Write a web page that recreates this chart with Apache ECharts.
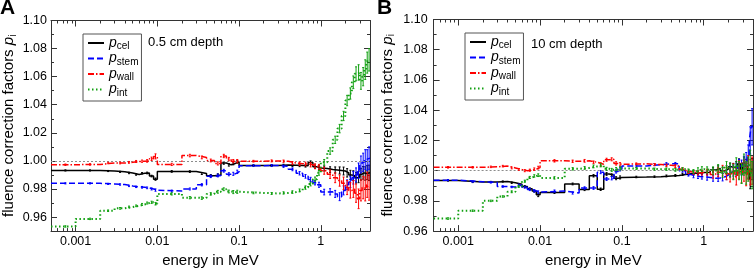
<!DOCTYPE html>
<html><head><meta charset="utf-8">
<script src="https://cdn.jsdelivr.net/npm/echarts@6/dist/echarts.min.js"></script>
<style>html,body{margin:0;padding:0;background:#fff}#c{width:754px;height:273px}</style>
</head><body><div id="c"></div>
<script>
// ---------- DATA ----------
const energyEdges = [0.0005, 0.001, 0.002, 0.003, 0.004, 0.005, 0.006, 0.007, 0.008, 0.009,
  0.01, 0.02, 0.03, 0.04, 0.05, 0.06, 0.07, 0.08, 0.09,
  0.1, 0.2, 0.3, 0.4, 0.5, 0.6, 0.7, 0.8, 0.9,
  1.0, 1.2, 1.4, 1.6, 1.8, 2.0, 2.2, 2.4, 2.6, 2.8, 3.0, 3.2, 3.4, 3.6, 3.8, 4.0];
const seriesNames = ['pcel', 'pstem', 'pwall', 'pint'];

const A_pcel = [0.9932, 0.9932,0.9928,0.9922,0.9914,0.9903,0.9912,0.9914,0.9892,0.9870, 0.9925,0.9924,0.9910,0.9895,0.9900,0.9985,0.9972,0.9982,0.9994, 0.9967,0.9968,0.9970,0.9969,0.9968,0.9966,0.9988,0.9958,0.9950, 0.9946,0.9938,0.9935,0.9932,0.9928,0.9915,0.9900,0.9895,0.9880,0.9885,0.9905,0.9915,0.9910,0.9918,0.9915];
const A_pstem = [0.9840, 0.9840,0.9836,0.9832,0.9822,0.9815,0.9812,0.9808,0.9800,0.9792, 0.9785,0.9800,0.9830,0.9890,0.9896,0.9930,0.9905,0.9908,0.9922, 0.9966,0.9967,0.9962,0.9940,0.9912,0.9890,0.9868,0.9845,0.9830, 0.9778,0.9780,0.9765,0.9745,0.9790,0.9830,0.9850,0.9880,0.9900,0.9930,0.9975,0.9990,1.0010,1.0005,1.0020];
const A_pwall = [0.9973, 0.9975,0.9985,0.9985,0.9990,0.9996,0.9998,1.0000,1.0015,1.0032, 0.9975,1.0038,1.0025,1.0003,0.9982,1.0035,1.0013,0.9998,0.9998, 0.9998,1.0000,0.9998,0.9985,0.9980,0.9978,0.9972,0.9962,0.9955, 0.9930,0.9905,0.9880,0.9860,0.9840,0.9810,0.9790,0.9800,0.9770,0.9730,0.9790,0.9810,0.9800,0.9830,0.9810];
const A_pint = [0.9533, 0.9587,0.9645,0.9662,0.9672,0.9680,0.9690,0.9700,0.9705,0.9695, 0.9765,0.9738,0.9735,0.9765,0.9780,0.9798,0.9782,0.9778,0.9780, 0.9772,0.9768,0.9772,0.9778,0.9790,0.9810,0.9835,0.9870,0.9915, 0.9990,1.0070,1.0150,1.0230,1.0320,1.0430,1.0480,1.0560,1.0620,1.0630,1.0570,1.0600,1.0650,1.0700,1.0720];

const A_pcel_err = [0.0004,0.0004,0.0004,0.0004,0.0005,0.0005,0.0005,0.0006,0.0006,0.0008, 0.0006,0.0006,0.0007,0.0008,0.0008,0.0009,0.0009,0.0010,0.0010, 0.0005,0.0006,0.0006,0.0008,0.0009,0.0010,0.0012,0.0013,0.0015, 0.0018,0.0020,0.0022,0.0025,0.0028,0.0030,0.0033,0.0035,0.0038,0.0040,0.0042,0.0045,0.0048,0.0050,0.0055];
const A_pstem_err = [0.0004,0.0004,0.0004,0.0005,0.0005,0.0005,0.0006,0.0006,0.0007,0.0008, 0.0007,0.0007,0.0008,0.0009,0.0010,0.0010,0.0011,0.0011,0.0012, 0.0006,0.0007,0.0008,0.0010,0.0012,0.0013,0.0015,0.0016,0.0018, 0.0020,0.0022,0.0025,0.0028,0.0032,0.0035,0.0040,0.0045,0.0050,0.0055,0.0060,0.0065,0.0070,0.0075,0.0080];
const A_pwall_err = [0.0005,0.0005,0.0005,0.0006,0.0006,0.0007,0.0008,0.0009,0.0012,0.0018, 0.0008,0.0009,0.0010,0.0010,0.0011,0.0012,0.0012,0.0012,0.0012, 0.0006,0.0007,0.0008,0.0010,0.0012,0.0013,0.0015,0.0017,0.0020, 0.0025,0.0030,0.0035,0.0040,0.0045,0.0050,0.0055,0.0060,0.0065,0.0070,0.0075,0.0080,0.0085,0.0090,0.0090];
const A_pint_err = [0.0005,0.0005,0.0005,0.0006,0.0006,0.0006,0.0007,0.0007,0.0008,0.0009, 0.0008,0.0008,0.0009,0.0009,0.0010,0.0010,0.0010,0.0011,0.0011, 0.0006,0.0007,0.0008,0.0009,0.0010,0.0012,0.0013,0.0015,0.0017, 0.0020,0.0023,0.0026,0.0030,0.0033,0.0037,0.0040,0.0045,0.0050,0.0055,0.0060,0.0065,0.0070,0.0075,0.0080];

const B_pcel = [0.9935, 0.9925,0.9925,0.9928,0.9920,0.9910,0.9895,0.9880,0.9865,0.9840, 0.9855,0.9912,0.9875,0.9966,0.9877,0.9978,0.9970,0.9950,0.9955, 0.9958,0.9960,0.9965,0.9968,0.9975,0.9980,0.9982,0.9985,0.9988, 0.9990,1.0005,1.0015,1.0000,1.0010,1.0025,1.0020,1.0030,1.0045,1.0010,1.0050,1.0030,1.0000,0.9940,1.0010];
const B_pstem = [0.9937, 0.9927,0.9922,0.9895,0.9892,0.9905,0.9890,0.9875,0.9865,0.9858, 0.9865,0.9852,0.9885,0.9885,0.9990,0.9945,0.9950,0.9995,1.0010, 1.0030,1.0040,1.0045,1.0045,1.0000,0.9975,0.9965,0.9962,0.9960, 0.9955,0.9950,0.9952,0.9958,0.9970,0.9990,1.0000,1.0010,1.0030,1.0020,1.0040,1.0060,1.0100,1.0200,1.0290];
const B_pwall = [1.0022, 1.0022,1.0025,1.0030,1.0018,1.0008,1.0000,1.0003,1.0010,1.0020, 1.0065,1.0062,1.0065,1.0055,1.0042,1.0072,1.0075,1.0048,1.0042, 1.0045,1.0040,1.0035,1.0030,1.0010,0.9992,0.9988,0.9985,0.9987, 0.9990,0.9975,0.9990,1.0000,0.9980,0.9970,0.9995,0.9960,1.0005,0.9985,1.0000,0.9975,1.0020,0.9990,1.0000];
const B_pint = [0.9683, 0.9735,0.9800,0.9829,0.9860,0.9895,0.9930,0.9955,0.9965,0.9970, 0.9952,1.0012,1.0018,1.0028,1.0035,1.0012,1.0005,1.0010,1.0015, 1.0015,1.0010,1.0010,1.0005,1.0010,1.0000,0.9995,1.0005,1.0010, 1.0005,1.0000,1.0010,0.9990,1.0020,1.0005,0.9990,1.0030,1.0000,0.9980,1.0040,0.9985,1.0010,1.0050,0.9970];

const B_pcel_err = [0.0004,0.0004,0.0004,0.0004,0.0005,0.0005,0.0006,0.0006,0.0007,0.0012, 0.0006,0.0006,0.0007,0.0008,0.0008,0.0009,0.0009,0.0010,0.0010, 0.0005,0.0005,0.0006,0.0006,0.0007,0.0008,0.0009,0.0010,0.0011, 0.0013,0.0015,0.0017,0.0020,0.0022,0.0025,0.0028,0.0030,0.0033,0.0036,0.0040,0.0045,0.0050,0.0060,0.0070];
const B_pstem_err = [0.0004,0.0004,0.0004,0.0005,0.0005,0.0006,0.0006,0.0007,0.0007,0.0008, 0.0007,0.0007,0.0008,0.0009,0.0010,0.0010,0.0011,0.0011,0.0012, 0.0006,0.0007,0.0008,0.0009,0.0010,0.0011,0.0012,0.0014,0.0016, 0.0018,0.0020,0.0023,0.0026,0.0030,0.0033,0.0036,0.0040,0.0045,0.0050,0.0055,0.0060,0.0070,0.0090,0.0120];
const B_pwall_err = [0.0005,0.0005,0.0005,0.0005,0.0006,0.0006,0.0007,0.0007,0.0008,0.0009, 0.0008,0.0008,0.0009,0.0009,0.0010,0.0010,0.0010,0.0011,0.0011, 0.0006,0.0007,0.0008,0.0009,0.0010,0.0011,0.0012,0.0014,0.0016, 0.0020,0.0025,0.0030,0.0035,0.0040,0.0045,0.0050,0.0055,0.0060,0.0065,0.0070,0.0075,0.0080,0.0085,0.0090];
const B_pint_err = [0.0005,0.0005,0.0005,0.0005,0.0006,0.0006,0.0007,0.0007,0.0008,0.0009, 0.0008,0.0008,0.0009,0.0009,0.0010,0.0010,0.0010,0.0011,0.0011, 0.0006,0.0007,0.0008,0.0009,0.0010,0.0011,0.0012,0.0014,0.0016, 0.0020,0.0025,0.0030,0.0035,0.0040,0.0045,0.0050,0.0055,0.0060,0.0065,0.0070,0.0075,0.0080,0.0085,0.0090];

const majorXTicks = [0.001, 0.01, 0.1, 1];
const minorXTicks = [0.0006,0.0007,0.0008,0.0009, 0.002,0.003,0.004,0.005,0.006,0.007,0.008,0.009,
  0.02,0.03,0.04,0.05,0.06,0.07,0.08,0.09, 0.2,0.3,0.4,0.5,0.6,0.7,0.8,0.9, 2,3];
const majorYTicks = [0.96,0.98,1.00,1.02,1.04,1.06,1.08,1.10];
const minorYTicks = [0.95,0.97,0.99,1.01,1.03,1.05,1.07,1.09];
const panelLetters = ['A', 'B'];
const depthLabels = ['0.5 cm depth', '10 cm depth'];
const yMins = [0.95, 0.96];
const yMax = 1.10;
const xMin = 0.0005, xMax = 4;
const refValue = 1.0;
const xTitle = 'energy in MeV';

// ---------- STYLE / LAYOUT ----------
const FONT = "'Liberation Sans', Arial, Helvetica, sans-serif";
const panelValues = [[A_pcel, A_pstem, A_pwall, A_pint], [B_pcel, B_pstem, B_pwall, B_pint]];
const panelErrors = [[A_pcel_err, A_pstem_err, A_pwall_err, A_pint_err], [B_pcel_err, B_pstem_err, B_pwall_err, B_pint_err]];
const lineStyles = {
  pcel: {color: '#000000', type: 'solid', width: 1.5},
  pstem: {color: '#0000ff', type: [6, 3], width: 1.5},
  pwall: {color: '#ff0000', type: [6, 2, 1.5, 2], width: 1.5},
  pint: {color: '#11a011', type: [1.5, 2.5], width: 2}
};
const grids = [
  {left: 51, top: 20.5, width: 319, height: 223},
  {left: 433.6, top: 19.5, width: 319.4, height: 224}
];
const legendPos = [{left: 83, top: 34}, {left: 465, top: 33}];
const depthPos = [{left: 148, top: 36}, {left: 531, top: 38}];
const letterPos = [{left: 0, top: -2}, {left: 377, top: -2}];
const yLabelMargin = [4, 6];
const yNameGap = [33, 37];
const frameColor = '#333';

const rich = {
  p: {fontStyle: 'italic', fontSize: 14, fontFamily: FONT, color: '#000'},
  s: {fontSize: 10, fontFamily: FONT, color: '#000', padding: [7, 0, 0, 0]}
};
const nameRich = {
  p: {fontStyle: 'italic', fontSize: 15, fontFamily: FONT, color: '#000'},
  s: {fontSize: 10, fontFamily: FONT, color: '#000', padding: [8, 0, 0, 0]}
};

const xAxes = [], yAxes = [], series = [], legends = [], titles = [];
const log10 = Math.log10;

function fmtX(v) {
  const e = Math.round(log10(v));
  return e >= 0 ? String(Math.pow(10, e)) : Math.pow(10, e).toFixed(-e);
}

for (let p = 0; p < 2; p++) {
  const base = xAxes.length;
  const tickStyle = {lineStyle: {color: frameColor, width: 1}};
  xAxes.push({type: 'log', gridIndex: p, position: 'bottom', min: xMin, max: xMax, logBase: 10,
    axisLine: {onZero: false, lineStyle: {color: frameColor, width: 1}},
    axisTick: {inside: true, length: 6, ...tickStyle},
    axisLabel: {formatter: fmtX, showMinLabel: false, showMaxLabel: false, fontSize: 12.5, color: '#000', fontFamily: FONT, margin: 4},
    splitLine: {show: false},
    name: xTitle, nameLocation: 'middle', nameGap: 21,
    nameTextStyle: {fontSize: 15, color: '#000', fontFamily: FONT}
  });
  xAxes.push({type: 'log', gridIndex: p, position: 'top', min: xMin, max: xMax, logBase: 10,
    axisLine: {onZero: false, lineStyle: {color: frameColor, width: 1}},
    axisTick: {inside: true, length: 6, ...tickStyle},
    axisLabel: {show: false}, splitLine: {show: false}
  });
  ['bottom', 'top'].forEach(pos => xAxes.push({type: 'value', gridIndex: p, position: pos,
    min: log10(xMin), max: log10(xMax),
    axisLine: {show: false, onZero: false},
    axisTick: {show: true, inside: true, length: 3, customValues: minorXTicks.map(log10), ...tickStyle},
    axisLabel: {show: false}, splitLine: {show: false}
  }));

  const yb = yAxes.length;
  const yName = 'fluence correction factors {p|p}{s|i}';
  yAxes.push({type: 'value', gridIndex: p, position: 'left', min: yMins[p], max: yMax,
    axisLine: {onZero: false, lineStyle: {color: frameColor, width: 1}},
    axisTick: {inside: true, length: 6, customValues: majorYTicks, ...tickStyle},
    axisLabel: {customValues: majorYTicks, formatter: v => v.toFixed(2), fontSize: 12.5, color: '#000', fontFamily: FONT, margin: yLabelMargin[p]},
    splitLine: {show: false},
    name: yName, nameLocation: 'middle', nameGap: yNameGap[p],
    nameTextStyle: {fontSize: 15, color: '#000', fontFamily: FONT, rich: nameRich}
  });
  yAxes.push({type: 'value', gridIndex: p, position: 'right', min: yMins[p], max: yMax,
    axisLine: {onZero: false, lineStyle: {color: frameColor, width: 1}},
    axisTick: {inside: true, length: 6, customValues: majorYTicks, ...tickStyle},
    axisLabel: {show: false}, splitLine: {show: false}
  });
  ['left', 'right'].forEach(pos => yAxes.push({type: 'value', gridIndex: p, position: pos, min: yMins[p], max: yMax,
    axisLine: {show: false, onZero: false},
    axisTick: {inside: true, length: 3, customValues: minorYTicks.filter(v => v >= yMins[p]), ...tickStyle},
    axisLabel: {show: false}, splitLine: {show: false}
  }));

  seriesNames.forEach((name, k) => {
    const vals = panelValues[p][k];
    const errs = panelErrors[p][k];
    const st = lineStyles[name];
    const stepData = energyEdges.map((e, i) => [e, vals[Math.min(i, vals.length - 1)]]);
    const s = {
      name: name, type: 'line', xAxisIndex: base, yAxisIndex: yb,
      data: stepData, step: 'end', symbol: 'none', showSymbol: false,
      lineStyle: {color: st.color, type: st.type, width: st.width},
      itemStyle: {color: st.color},
      animation: false, silent: true, z: 3 + k, clip: true
    };
    if (k === 0) {
      s.markLine = {silent: true, symbol: ['none', 'none'], label: {show: false}, animation: false,
        lineStyle: {color: '#8c8c8c', type: [2, 2], width: 1},
        data: [{yAxis: refValue}]};
    }
    series.push(s);
    const errData = vals.map((v, i) => [(energyEdges[i] + energyEdges[i + 1]) / 2, v, errs[i]]);
    series.push({
      name: name + '_err', type: 'custom', xAxisIndex: base, yAxisIndex: yb,
      data: errData, animation: false, silent: true, z: 3 + k, clip: true,
      encode: {x: 0, y: 1},
      renderItem: (params, api) => {
        const x = api.value(0), v = api.value(1), e = api.value(2);
        const top = api.coord([x, v + e]), bot = api.coord([x, v - e]);
        const ls = {stroke: st.color, lineWidth: 1};
        const cw = 1;
        return {type: 'group', children: [
          {type: 'line', shape: {x1: top[0], y1: top[1], x2: bot[0], y2: bot[1]}, style: ls},
          {type: 'line', shape: {x1: top[0] - cw, y1: top[1], x2: top[0] + cw, y2: top[1]}, style: ls},
          {type: 'line', shape: {x1: bot[0] - cw, y1: bot[1], x2: bot[0] + cw, y2: bot[1]}, style: ls}
        ]};
      }
    });
  });

  legends.push({
    data: seriesNames, orient: 'vertical', left: legendPos[p].left, top: legendPos[p].top,
    padding: [2, 3, 3, 4], itemGap: 0, itemWidth: 16, itemHeight: 14,
    borderColor: '#555', borderWidth: 1, selectedMode: false, backgroundColor: '#fff',
    itemStyle: {color: 'rgba(0,0,0,0)', borderWidth: 0, opacity: 0},
    formatter: n => '{p|p}{s|' + n.slice(1) + '}',
    textStyle: {fontSize: 14, fontFamily: FONT, color: '#000', rich: rich}
  });
  titles.push({text: panelLetters[p], left: letterPos[p].left, top: letterPos[p].top, padding: 0,
    textStyle: {fontSize: 21, fontWeight: 'bold', color: '#000', fontFamily: FONT}});
  titles.push({text: depthLabels[p], left: depthPos[p].left, top: depthPos[p].top, padding: 0,
    textStyle: {fontSize: 13, fontWeight: 'normal', color: '#000', fontFamily: FONT}});
}

const chart = echarts.init(document.getElementById('c'), null, {renderer: 'canvas'});
chart.setOption({
  backgroundColor: '#fff',
  animation: false,
  grid: grids,
  xAxis: xAxes,
  yAxis: yAxes,
  legend: legends,
  title: titles,
  series: series
});
</script>
</body></html>
